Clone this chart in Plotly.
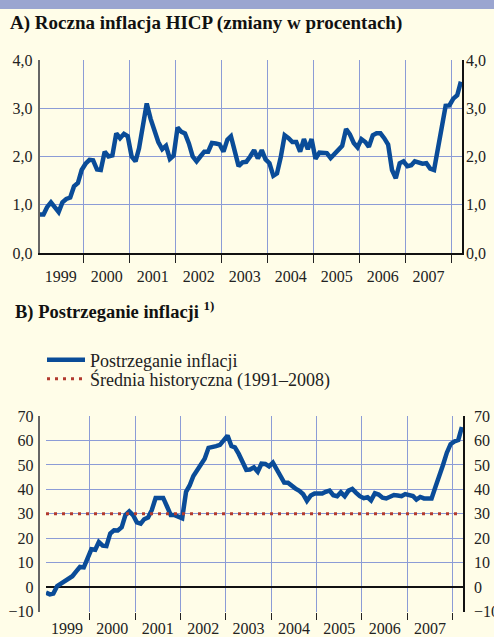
import plotly.graph_objects as go
import pandas as pd

# Monthly dates Jan 1999 - Mar 2008 (plotted mid-month)
months = [d.strftime("%Y-%m-%d") for d in pd.date_range("1999-01-01", periods=111, freq="MS") + pd.Timedelta(days=14)]

# A) Euro area HICP annual inflation (%)
hicp = [
    0.8, 0.8, 0.95, 1.05, 0.95, 0.85, 1.05, 1.12, 1.15, 1.38, 1.45, 1.72,   # 1999
    1.85, 1.93, 1.92, 1.73, 1.72, 2.1, 2.0, 2.02, 2.48, 2.38, 2.47, 2.42,   # 2000
    2.0, 1.9, 2.17, 2.7, 3.1, 2.78, 2.52, 2.3, 2.15, 2.22, 1.95, 2.02,      # 2001
    2.6, 2.51, 2.48, 2.27, 2.0, 1.9, 2.0, 2.1, 2.1, 2.28, 2.27, 2.25,       # 2002
    2.1, 2.35, 2.42, 2.1, 1.8, 1.88, 1.89, 2.0, 2.13, 1.96, 2.13, 1.94,     # 2003
    1.86, 1.6, 1.65, 2.0, 2.44, 2.38, 2.3, 2.3, 2.1, 2.36, 2.15, 2.36,      # 2004
    1.95, 2.08, 2.08, 2.07, 1.97, 2.05, 2.15, 2.22, 2.57, 2.46, 2.28, 2.19, # 2005
    2.36, 2.3, 2.2, 2.44, 2.48, 2.48, 2.38, 2.25, 1.72, 1.55, 1.86, 1.9,    # 2006
    1.8, 1.82, 1.9, 1.88, 1.85, 1.86, 1.75, 1.72, 2.15, 2.6, 3.05, 3.06,    # 2007
    3.2, 3.27, 3.55,                                                        # 2008
]

# B) Perceived inflation (balance)
perceived = [
    -2.2, -2.9, -2.6, 0.5, 1.5, 2.5, 3.5, 4.5, 6.5, 8.3, 8.1, 12.0,         # 1999
    15.5, 15.3, 18.5, 17.0, 16.8, 22.0, 23.3, 23.2, 24.5, 29.5, 31.0, 29.5, # 2000
    26.5, 26.0, 27.8, 28.5, 31.5, 36.5, 36.7, 36.5, 33.0, 29.5, 29.5, 29.0, # 2001
    28.2, 39.0, 41.5, 45.5, 47.8, 49.5, 52.5, 57.0, 57.2, 57.7, 58.2, 60.2, # 2002
    62.0, 57.7, 57.2, 54.5, 51.5, 48.0, 48.1, 49.0, 47.2, 50.5, 50.4, 49.4, # 2003
    50.9, 48.2, 46.3, 42.8, 42.7, 41.2, 40.3, 39.4, 38.0, 35.3, 37.5, 38.3, # 2004
    38.1, 38.3, 39.0, 39.5, 37.6, 37.2, 38.8, 37.2, 39.5, 40.2, 38.6, 37.2, # 2005
    36.4, 36.8, 35.5, 38.4, 37.9, 36.6, 36.3, 36.9, 37.7, 37.5, 37.2, 38.1, # 2006
    37.6, 37.3, 35.8, 36.9, 36.3, 36.3, 36.3, 41.0, 45.0, 50.0, 55.0, 58.5, # 2007
    59.6, 60.2, 65.5,                                                       # 2008
]

hist_avg = 30.0  # historical average 1991-2008

title_a = "<b>A) Roczna inflacja HICP (zmiany w procentach)</b>"
title_b = "<b>B) Postrzeganie inflacji <sup>1)</sup></b>"
name_perc = "Postrzeganie inflacji"
name_avg = "Średnia historyczna (1991–2008)"

BG = "#fffde8"
GRID = "#8c9cd6"
BLUE = "#0a4c98"
RED = "#b23a2e"
FONT = "Liberation Serif"
W, H = 494, 637

def px_x(p):
    return p / W

def px_y(p):
    return 1 - p / H

fig = go.Figure()

fig.add_trace(go.Scatter(x=months, y=hicp, xaxis="x", yaxis="y", mode="lines",
                         line=dict(color=BLUE, width=4.5), showlegend=False))
fig.add_trace(go.Scatter(x=months, y=hicp, xaxis="x", yaxis="y2", mode="lines",
                         line=dict(color="rgba(0,0,0,0)", width=0), showlegend=False,
                         hoverinfo="skip"))
fig.add_trace(go.Scatter(x=months, y=perceived, xaxis="x2", yaxis="y3", mode="lines",
                         name=name_perc, legend="legend",
                         line=dict(color=BLUE, width=4.5)))
fig.add_trace(go.Scatter(x=months, y=[hist_avg] * len(months), xaxis="x2", yaxis="y3",
                         mode="lines", name=name_avg, legend="legend2",
                         line=dict(color=RED, width=3, dash="3px,5px")))
fig.add_trace(go.Scatter(x=months, y=perceived, xaxis="x2", yaxis="y4", mode="lines",
                         line=dict(color="rgba(0,0,0,0)", width=0), showlegend=False,
                         hoverinfo="skip"))

xr = ["1999-01-14", "2008-03-24"]
xcommon = dict(type="date", range=xr, dtick="M12", tick0="1999-01-01",
               ticklabelmode="period", ticks="outside", tickwidth=1,
               tickcolor="#222", showgrid=True, gridcolor=GRID, gridwidth=1,
               tickformat="%Y", zeroline=False,
               tickfont=dict(family=FONT, size=16, color="#222"))

ycommon = dict(ticks="outside", ticklen=0, tickcolor="rgba(0,0,0,0)",
               tickfont=dict(family=FONT, size=16, color="#222"))

legcommon = dict(xanchor="left", yanchor="middle", bgcolor="rgba(0,0,0,0)",
                 font=dict(family=FONT, size=18, color="#222"), itemwidth=38)

fig.update_layout(
    width=W, height=H,
    margin=dict(l=0, r=0, t=0, b=0, pad=0, autoexpand=False),
    paper_bgcolor=BG, plot_bgcolor=BG,
    separators=", ",
    font=dict(family=FONT, color="#222"),
    xaxis=dict(domain=[px_x(39.5), px_x(462)], anchor="y", ticklen=8,
               showline=True, linecolor="#111", linewidth=1.5,
               ticklabelstandoff=0, **xcommon),
    yaxis=dict(domain=[px_y(253), px_y(60)], range=[0, 4], dtick=1, tickformat=".1f",
               showgrid=True, gridcolor=GRID, gridwidth=1, zeroline=False,
               showline=True, linecolor="#666", linewidth=1.5,
               ticklabelstandoff=2, **ycommon),
    yaxis2=dict(overlaying="y", side="right", anchor="x", range=[0, 4], dtick=1,
                tickformat=".1f", showgrid=False, zeroline=False,
                showline=True, linecolor="#111", linewidth=1.5,
                ticklabelstandoff=-1, **ycommon),
    xaxis2=dict(domain=[px_x(45.9), px_x(463)], anchor="y3", ticklen=7,
                showline=False, ticklabelstandoff=-5, **xcommon),
    yaxis3=dict(domain=[px_y(611.7), px_y(416)], range=[-10, 70], dtick=10,
                showgrid=True, gridcolor=GRID, gridwidth=1,
                zeroline=True, zerolinecolor="#111", zerolinewidth=1.5,
                showline=True, linecolor="#666", linewidth=1.5,
                ticklabelstandoff=1, **ycommon),
    yaxis4=dict(overlaying="y3", side="right", anchor="x2", range=[-10, 70], dtick=10,
                showgrid=False, zeroline=False,
                showline=True, linecolor="#111", linewidth=1.5,
                ticklabelstandoff=6, **ycommon),
    legend=dict(x=px_x(42), y=px_y(360), **legcommon),
    legend2=dict(x=px_x(42), y=px_y(379), **legcommon),
    shapes=[dict(type="rect", xref="paper", yref="paper", x0=0, x1=1,
                 y0=px_y(9), y1=1, fillcolor="#9aa5d0", line=dict(width=0))],
    annotations=[
        dict(text=title_a, xref="paper", yref="paper", x=px_x(8), y=px_y(10),
             xanchor="left", yanchor="top", showarrow=False,
             font=dict(family=FONT, size=19, color="#111")),
        dict(text=title_b, xref="paper", yref="paper", x=px_x(13), y=px_y(296),
             xanchor="left", yanchor="top", showarrow=False,
             font=dict(family=FONT, size=18.5, color="#111")),
    ],
)

fig.write_html("out.html",
               config={"displayModeBar": False},
               post_script="document.body.style.margin='0';"
                           "document.body.style.background='#fffde8';")
